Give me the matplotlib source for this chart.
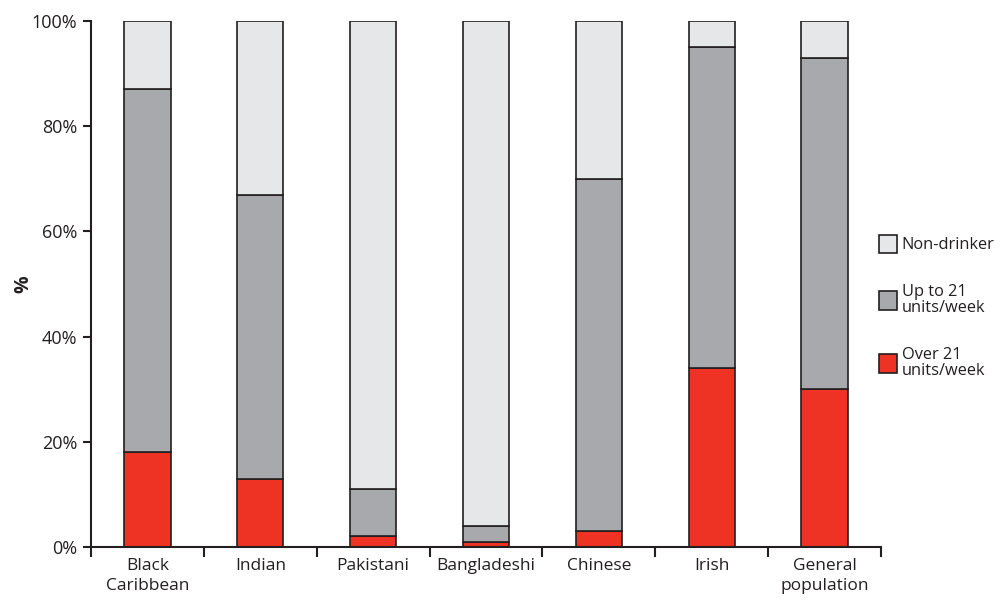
import matplotlib
matplotlib.use("Agg")
import matplotlib.pyplot as plt
from matplotlib.patches import Patch
import numpy as np

categories = ["Black\nCaribbean", "Indian", "Pakistani", "Bangladeshi", "Chinese", "Irish", "General\npopulation"]
over21 = [18, 13, 2, 1, 3, 34, 30]
upto21 = [69, 54, 9, 3, 67, 61, 63]
nondrinker = [13, 33, 89, 96, 30, 5, 7]
yticks = [0, 20, 40, 60, 80, 100]
ytick_labels = ["0%", "20%", "40%", "60%", "80%", "100%"]
legend_labels = ["Non-drinker", "Up to 21\nunits/week", "Over 21\nunits/week"]

c_red = "#EE3224"
c_gray = "#A7A9AC"
c_light = "#E6E7E8"
c_edge = "#231F20"

plt.rcParams['font.family'] = ['Open Sans', 'DejaVu Sans']

fig = plt.figure(figsize=(10.07, 6.01), dpi=100)
ax = fig.add_axes([91/1007, 54/601, (881-91)/1007, (547-21)/601])

x = np.arange(len(categories))
w = 0.41
lw = 1.2
ax.bar(x, over21, width=w, color=c_red, edgecolor=c_edge, linewidth=lw)
b1 = np.array(over21)
ax.bar(x, upto21, width=w, bottom=b1, color=c_gray, edgecolor=c_edge, linewidth=lw)
b2 = b1 + np.array(upto21)
ax.bar(x, nondrinker, width=w, bottom=b2, color=c_light, edgecolor=c_edge, linewidth=lw)

ax.set_xlim(-0.5, len(categories) - 0.5)
ax.set_ylim(0, 100)
ax.set_yticks(yticks)
ax.set_yticklabels(ytick_labels, fontsize=13, color="#231F20")
ax.set_xticks(np.arange(-0.5, len(categories)), minor=False)
ax.set_xticklabels([])
ax.set_xticks(x, minor=True)
ax.set_xticklabels(categories, minor=True, fontsize=12.5, color="#231F20", linespacing=1.35)
ax.tick_params(axis='x', which='minor', length=0, pad=8)
ax.tick_params(axis='x', which='major', length=7, width=1.5, direction='out', color=c_edge)
ax.tick_params(axis='y', length=6, width=1.5, direction='out', color=c_edge, pad=4)

for s in ["top", "right"]:
    ax.spines[s].set_visible(False)
for s in ["left", "bottom"]:
    ax.spines[s].set_linewidth(1.5)
    ax.spines[s].set_color(c_edge)

ax.set_ylabel("%", fontsize=14, fontweight='bold', color="#231F20")
ax.yaxis.set_label_coords((33 - 91) / 790, 0.5)

handles = [Patch(facecolor=c_light, edgecolor=c_edge, linewidth=1.2),
           Patch(facecolor=c_gray, edgecolor=c_edge, linewidth=1.2),
           Patch(facecolor=c_red, edgecolor=c_edge, linewidth=1.2)]
leg = fig.legend(handles, legend_labels, loc='upper left', bbox_to_anchor=(872/1007, 1 - 228/601),
                 frameon=False, fontsize=11.8, handlelength=1.1, handleheight=1.4,
                 handletextpad=0.3, labelspacing=1.85, borderaxespad=0)
for t in leg.get_texts():
    t.set_color("#231F20")
    t.set_linespacing(1.05)

fig.savefig("out.png", dpi=100)
